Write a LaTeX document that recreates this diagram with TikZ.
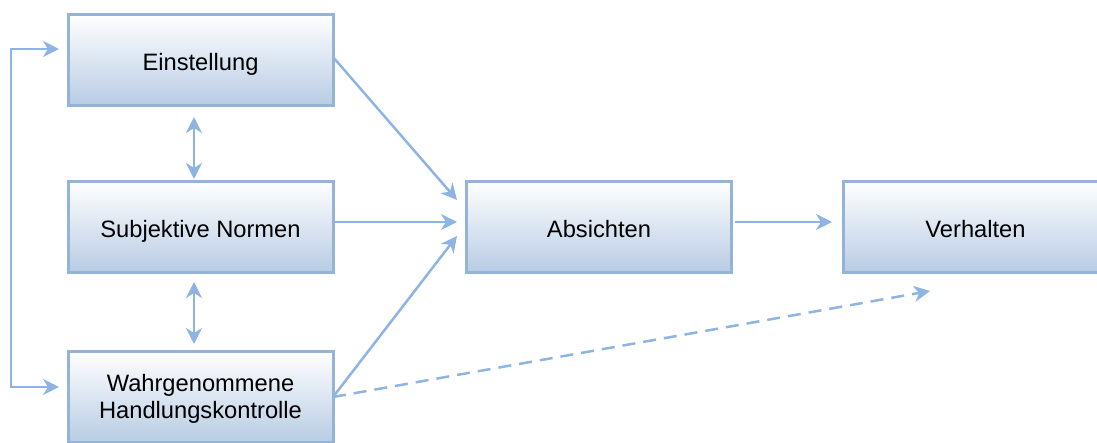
\documentclass[tikz,border=0pt]{standalone}
\usepackage{fontspec}
\setmainfont{Liberation Sans}
\usetikzlibrary{arrows.meta}
\definecolor{lineblue}{RGB}{141,180,226}
\definecolor{boxborder}{RGB}{149,179,215}
\definecolor{boxbottom}{RGB}{184,204,228}
\tikzset{
  box/.style={draw=boxborder, line width=3pt, top color=white, bottom color=boxbottom,
    minimum width=265pt, minimum height=91pt, inner sep=0pt, align=center,
    text height=21pt, text depth=0pt,
    font=\fontsize{23.7pt}{27pt}\selectfont, text=black},
  conn/.style={draw=lineblue, line width=2.5pt, -{Stealth[length=16pt,width=16pt,inset=5pt]}},
  biconn/.style={draw=lineblue, line width=2.5pt, {Stealth[length=16pt,width=16pt,inset=5pt]}-{Stealth[length=16pt,width=16pt,inset=5pt]}},
  dconn/.style={conn, dash pattern=on 13pt off 8pt}
}
\begin{document}
\begin{tikzpicture}[x=1pt,y=-1pt]
\useasboundingbox (0,0) rectangle (1097,442);
\clip (0,0) rectangle (1097,442);
\node[box] (ein) at (200.5,59.5) {Einstellung};
\node[box] (sub) at (200.5,226.5) {Subjektive Normen};
\node[box, text height=46pt, text depth=3pt] (wah) at (200.5,396.5) {Wahrgenommene\\Handlungskontrolle};
\node[box] (abs) at (599,226.5) {Absichten};
\node[box] (ver) at (975.5,226.5) {Verhalten};
% free ends
\coordinate (t1) at (457,200);
\coordinate (t2) at (457,222);
\coordinate (t3) at (457,236);
\coordinate (t4) at (832,222);
\coordinate (t5) at (930,291);
\coordinate (s1) at (333,57);
\coordinate (s2) at (333,222);
\coordinate (s3) at (333,397);
\coordinate (s4) at (735,222);
\coordinate (lA) at (59,49);
\coordinate (lB) at (59,387);
\coordinate (u1) at (194,117);
\coordinate (u2) at (194,179);
\coordinate (d1) at (194,282);
\coordinate (d2) at (194,344);
\draw[conn] (s1) -- (t1);
\draw[conn] (s2) -- (t2);
\draw[conn] (s3) -- (t3);
\draw[conn] (s4) -- (t4);
\draw[dconn] (s3) -- (t5);
\draw[biconn] (lA) -- (11,49) -- (11,387) -- (lB);
\draw[biconn] (u1) -- (u2);
\draw[biconn] (d1) -- (d2);
\end{tikzpicture}
\end{document}
